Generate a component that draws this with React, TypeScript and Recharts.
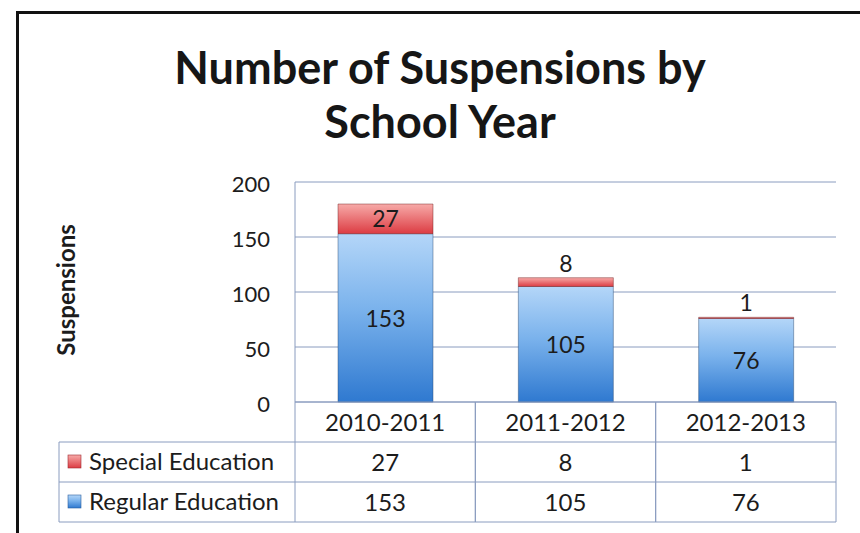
import { Bar, BarChart, CartesianGrid, LabelList, XAxis, YAxis } from "recharts";

const categories = ["2010-2011", "2011-2012", "2012-2013"];
const specialEducation = [27, 8, 1];
const regularEducation = [153, 105, 76];
const seriesNames = ["Special Education", "Regular Education"];
const yTicks = [0, 50, 100, 150, 200];

const data = categories.map((year, i) => ({
  year,
  special: specialEducation[i],
  regular: regularEducation[i],
}));

const W = 860;
const H = 533;
const PLOT_LEFT = 295;
const PLOT_RIGHT = 836;
const PLOT_TOP = 182;
const PLOT_BOTTOM = 402;
const BAND = (PLOT_RIGHT - PLOT_LEFT) / categories.length;
const TABLE_LEFT = 59;
const ROW_H = 40;

const FONT = "Lato, 'Open Sans', sans-serif";
const GRID = "#8a9cbf";
const INK = "#1c1c1c";

function TableTick(props: any) {
  const { x, payload, index } = props;
  const i = payload?.index ?? index ?? 0;
  const rowA = PLOT_BOTTOM + ROW_H;
  const rowB = rowA + ROW_H;
  const rowC = rowB + ROW_H;
  return (
    <g fontFamily={FONT} fill={INK}>
      <line x1={x - BAND / 2} x2={x - BAND / 2} y1={PLOT_BOTTOM} y2={rowC} stroke={GRID} />
      <line x1={x + BAND / 2} x2={x + BAND / 2} y1={PLOT_BOTTOM} y2={rowC} stroke={GRID} />
      <text x={x} y={PLOT_BOTTOM + 29} textAnchor="middle" fontSize={24}>
        {payload.value}
      </text>
      <text x={x} y={rowA + 29} textAnchor="middle" fontSize={24}>
        {specialEducation[i]}
      </text>
      <text x={x} y={rowB + 29} textAnchor="middle" fontSize={24}>
        {regularEducation[i]}
      </text>
      {i === 0 && (
        <g>
          <line x1={TABLE_LEFT} x2={PLOT_RIGHT} y1={rowA} y2={rowA} stroke={GRID} />
          <line x1={TABLE_LEFT} x2={PLOT_RIGHT} y1={rowB} y2={rowB} stroke={GRID} />
          <line x1={TABLE_LEFT} x2={PLOT_RIGHT} y1={rowC} y2={rowC} stroke={GRID} />
          <line x1={TABLE_LEFT} x2={TABLE_LEFT} y1={rowA} y2={rowC} stroke={GRID} />
          <rect x={68} y={rowA + 13} width={13} height={13} fill="url(#redGrad)" stroke="#a02a30" strokeWidth={0.6} />
          <rect x={68} y={rowB + 13} width={13} height={13} fill="url(#blueGrad)" stroke="#2b5f9e" strokeWidth={0.6} />
          <text x={89} y={rowA + 28} fontSize={24}>
            {seriesNames[0]}
          </text>
          <text x={89} y={rowB + 28} fontSize={24}>
            {seriesNames[1]}
          </text>
        </g>
      )}
    </g>
  );
}

function SpecialLabel(props: any) {
  const { x, y, width, height, value } = props;
  const small = height < 24;
  return (
    <text
      x={x + width / 2}
      y={small ? y - 6 : y + height / 2 + 8}
      textAnchor="middle"
      fontSize={23}
      fontFamily={FONT}
      fill={INK}
    >
      {value}
    </text>
  );
}

function RegularLabel(props: any) {
  const { x, y, width, height, value } = props;
  return (
    <text x={x + width / 2} y={y + height / 2 + 9} textAnchor="middle" fontSize={23} fontFamily={FONT} fill={INK}>
      {value}
    </text>
  );
}

export default function App() {
  return (
    <div style={{ position: "absolute", left: 0, top: 0, width: W, height: H, background: "#fff", overflow: "hidden" }}>
      <div
        style={{
          position: "absolute",
          left: 16,
          top: 11,
          width: W,
          height: H,
          borderTop: "3px solid #111",
          borderLeft: "3px solid #111",
        }}
      />
      <div
        style={{
          position: "absolute",
          left: 0,
          top: 40,
          width: 880,
          textAlign: "center",
          fontFamily: FONT,
          fontWeight: 700,
          fontSize: 45,
          lineHeight: "54px",
          color: "#161616",
        }}
      >
        Number of Suspensions by
        <br />
        School Year
      </div>
      <div style={{ position: "absolute", left: 0, top: 0 }}>
        <BarChart
          width={W}
          height={H}
          data={data}
          margin={{ top: PLOT_TOP, right: W - PLOT_RIGHT, bottom: 0, left: 0 }}
          barSize={95}
        >
          <defs>
            <linearGradient id="blueGrad" x1="0" y1="0" x2="0" y2="1">
              <stop offset="0%" stopColor="#b4d6f8" />
              <stop offset="45%" stopColor="#7ab2ec" />
              <stop offset="100%" stopColor="#2f79d0" />
            </linearGradient>
            <linearGradient id="redGrad" x1="0" y1="0" x2="0" y2="1">
              <stop offset="0%" stopColor="#f7aaa8" />
              <stop offset="100%" stopColor="#dc3c43" />
            </linearGradient>
          </defs>
          <CartesianGrid vertical={false} stroke={GRID} strokeWidth={1} />
          <XAxis
            dataKey="year"
            height={H - PLOT_BOTTOM}
            tickLine={false}
            tickSize={0}
            tickMargin={0}
            axisLine={{ stroke: GRID }}
            tick={<TableTick />}
            interval={0}
          />
          <YAxis
            width={PLOT_LEFT}
            domain={[0, 200]}
            ticks={yTicks}
            tickLine={false}
            tickSize={0}
            tickMargin={25}
            axisLine={{ stroke: GRID }}
            tick={{ fontSize: 22, fill: INK, fontFamily: FONT, dy: 2 }}
            label={{
              content: () => (
                <text
                  x={75}
                  y={290}
                  transform="rotate(-90 75 290)"
                  textAnchor="middle"
                  fontSize={24}
                  fontWeight={700}
                  fontFamily={FONT}
                  fill={INK}
                >
                  Suspensions
                </text>
              ),
            }}
          />
          <Bar
            dataKey="regular"
            name={seriesNames[1]}
            stackId="a"
            fill="url(#blueGrad)"
            stroke="rgba(40,70,110,0.45)"
            strokeWidth={1}
            isAnimationActive={false}
          >
            <LabelList dataKey="regular" content={<RegularLabel />} />
          </Bar>
          <Bar
            dataKey="special"
            name={seriesNames[0]}
            stackId="a"
            fill="url(#redGrad)"
            stroke="rgba(110,30,30,0.45)"
            strokeWidth={1}
            isAnimationActive={false}
          >
            <LabelList dataKey="special" content={<SpecialLabel />} />
          </Bar>
        </BarChart>
      </div>
    </div>
  );
}
